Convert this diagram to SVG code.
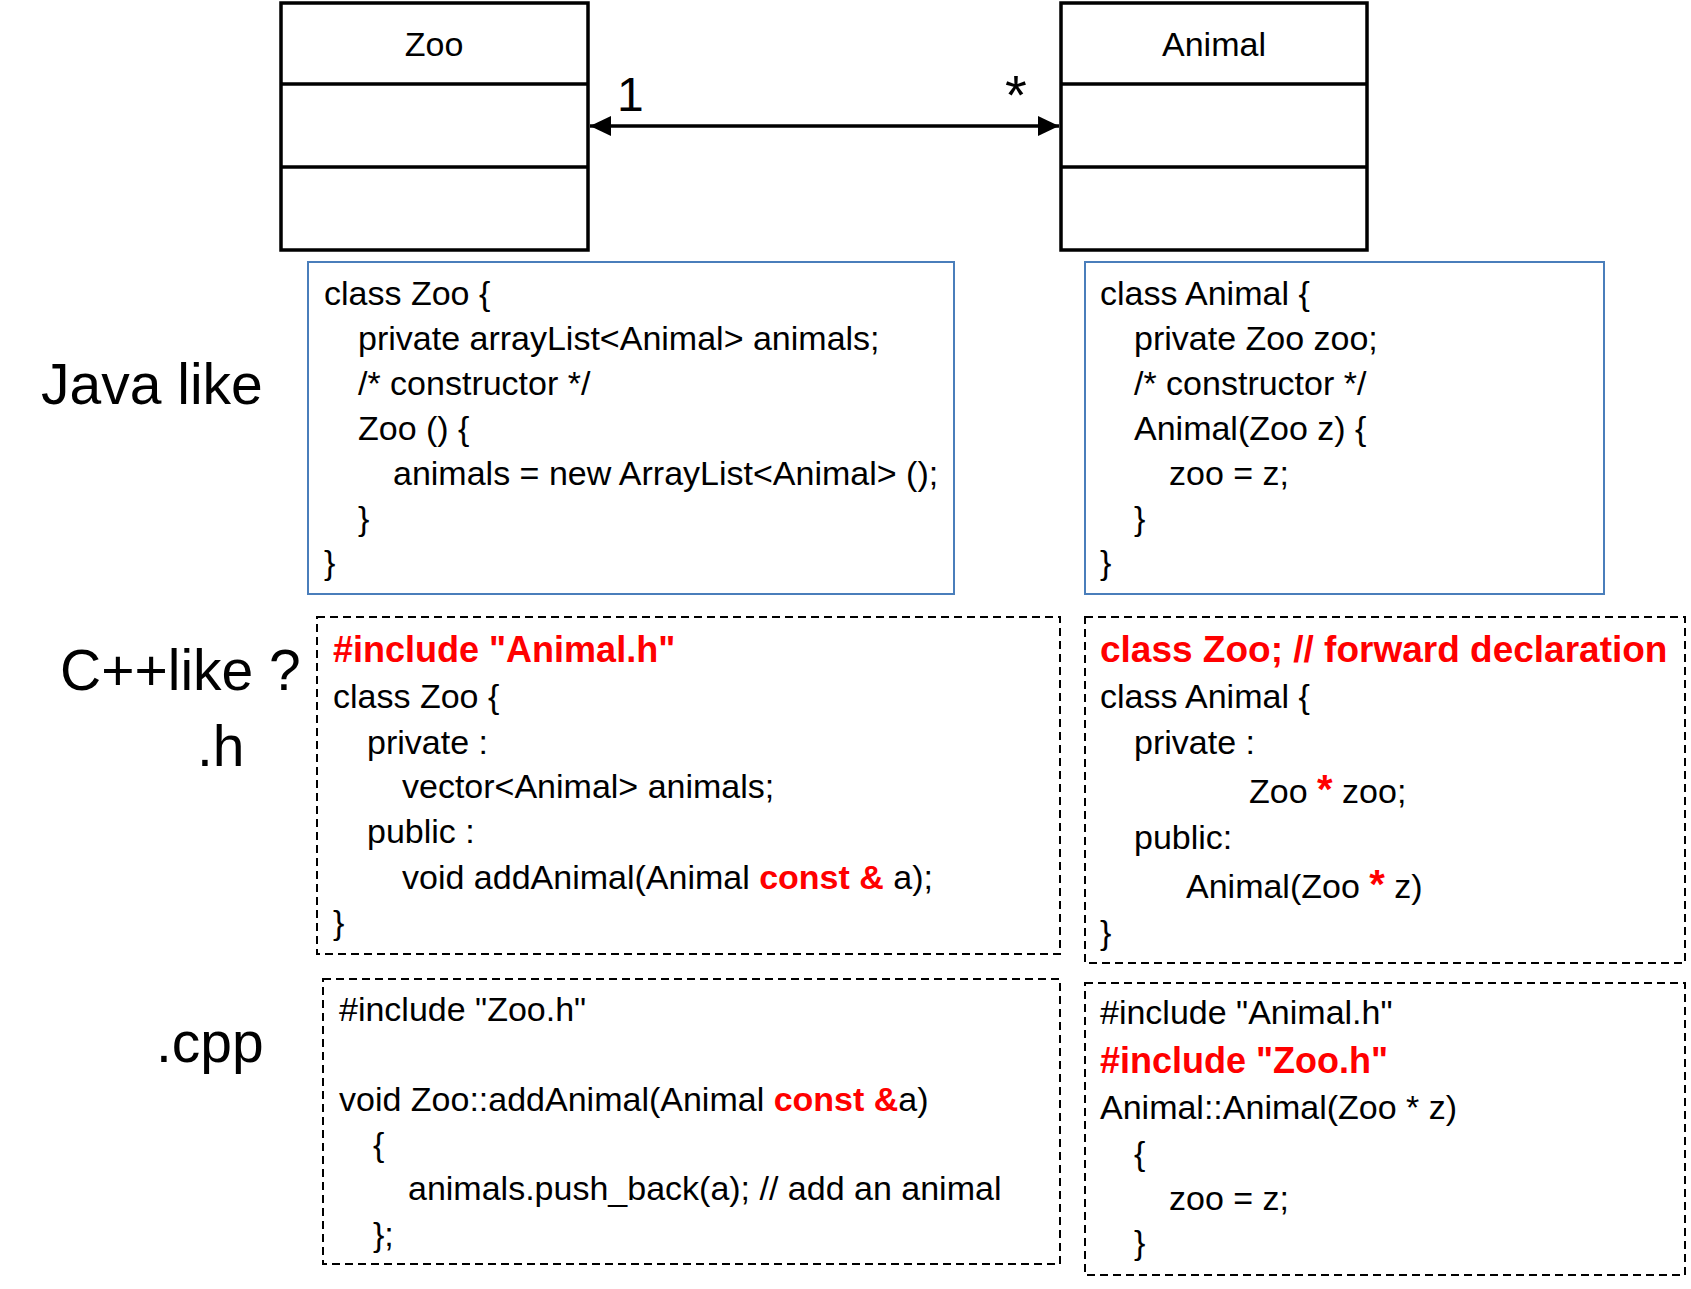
<svg xmlns="http://www.w3.org/2000/svg" width="1691" height="1289" viewBox="0 0 1691 1289">
<style>
text{font-family:"Liberation Sans",Arial,sans-serif;fill:#000}
.c{font-size:34px}
.lb{font-size:57px}
.r{fill:#FF0000;font-weight:bold}
.h{font-size:36px}
.fw{font-size:37px}
.ast{font-size:40px}
.uml{fill:#fff;stroke:#000;stroke-width:3.5}
.java{fill:#fff;stroke:#4A7EBB;stroke-width:2}
.dash{fill:#fff;stroke:#000;stroke-width:2;stroke-dasharray:8 5}
</style>
<defs>
<marker id="ah" markerUnits="userSpaceOnUse" markerWidth="22" markerHeight="20" refX="21" refY="10" orient="auto-start-reverse" viewBox="0 0 22 20">
<path d="M0,0 L21,10 L0,20 z" fill="#000"/>
</marker>
</defs>
<rect width="1691" height="1289" fill="#fff"/>

<g id="zoo-class">
<rect class="uml" x="281" y="3" width="307" height="247"/>
<line x1="281" y1="84" x2="588" y2="84" stroke="#000" stroke-width="3.5"/>
<line x1="281" y1="167" x2="588" y2="167" stroke="#000" stroke-width="3.5"/>
<text class="c" x="434" y="56" text-anchor="middle">Zoo</text>
</g>
<g id="animal-class">
<rect class="uml" x="1061" y="3" width="306" height="247"/>
<line x1="1061" y1="84" x2="1367" y2="84" stroke="#000" stroke-width="3.5"/>
<line x1="1061" y1="167" x2="1367" y2="167" stroke="#000" stroke-width="3.5"/>
<text class="c" x="1214" y="56" text-anchor="middle">Animal</text>
</g>

<g id="connectors">
<line x1="590" y1="126" x2="1059" y2="126" stroke="#000" stroke-width="3.5" marker-start="url(#ah)" marker-end="url(#ah)"/>
<text x="617" y="111" font-size="48">1</text>
<text x="1005" y="114" font-size="56">*</text>
</g>

<g id="labels">
<text class="lb" x="41" y="404">Java like</text>
<text class="lb" x="60" y="690">C++like ?</text>
<text class="lb" x="197" y="766">.h</text>
<text class="lb" x="156" y="1062">.cpp</text>
</g>

<g id="java-zoo">
<rect class="java" x="308" y="262" width="646" height="332"/>
<text class="c" x="324" y="305">class Zoo {</text>
<text class="c" x="358" y="350">private arrayList&lt;Animal&gt; animals;</text>
<text class="c" x="358" y="395">/* constructor */</text>
<text class="c" x="358" y="440">Zoo () {</text>
<text class="c" x="393" y="485">animals = new ArrayList&lt;Animal&gt; ();</text>
<text class="c" x="358" y="530">}</text>
<text class="c" x="324" y="574">}</text>
</g>

<g id="java-animal">
<rect class="java" x="1085" y="262" width="519" height="332"/>
<text class="c" x="1100" y="305">class Animal {</text>
<text class="c" x="1134" y="350">private Zoo zoo;</text>
<text class="c" x="1134" y="395">/* constructor */</text>
<text class="c" x="1134" y="440">Animal(Zoo z) {</text>
<text class="c" x="1169" y="485">zoo = z;</text>
<text class="c" x="1134" y="530">}</text>
<text class="c" x="1100" y="574">}</text>
</g>

<g id="cpp-zoo-h">
<rect class="dash" x="317" y="617" width="743" height="337"/>
<text class="c h r" x="333" y="662">#include "Animal.h"</text>
<text class="c" x="333" y="708">class Zoo {</text>
<text class="c" x="367" y="754">private :</text>
<text class="c" x="402" y="798">vector&lt;Animal&gt; animals;</text>
<text class="c" x="367" y="843">public :</text>
<text class="c" x="402" y="889">void addAnimal(Animal <tspan class="r">const &amp;</tspan> a);</text>
<text class="c" x="333" y="934">}</text>
</g>

<g id="cpp-animal-h">
<rect class="dash" x="1085" y="617" width="600" height="346"/>
<text class="c fw r" x="1100" y="662">class Zoo; // forward declaration</text>
<text class="c" x="1100" y="708">class Animal {</text>
<text class="c" x="1134" y="754">private :</text>
<text class="c" x="1249" y="803">Zoo <tspan class="r ast">*</tspan> zoo;</text>
<text class="c" x="1134" y="849">public:</text>
<text class="c" x="1186" y="898">Animal(Zoo <tspan class="r ast">*</tspan> z)</text>
<text class="c" x="1100" y="944">}</text>
</g>

<g id="cpp-zoo-cpp">
<rect class="dash" x="323" y="979" width="737" height="285"/>
<text class="c" x="339" y="1021">#include "Zoo.h"</text>
<text class="c" x="339" y="1111">void Zoo::addAnimal(Animal <tspan class="r">const &amp;</tspan>a)</text>
<text class="c" x="373" y="1156">{</text>
<text class="c" x="408" y="1200">animals.push_back(a); // add an animal</text>
<text class="c" x="373" y="1246">};</text>
</g>

<g id="cpp-animal-cpp">
<rect class="dash" x="1085" y="983" width="600" height="292"/>
<text class="c" x="1100" y="1024">#include "Animal.h"</text>
<text class="c h r" x="1100" y="1073">#include "Zoo.h"</text>
<text class="c" x="1100" y="1119">Animal::Animal(Zoo * z)</text>
<text class="c" x="1134" y="1165">{</text>
<text class="c" x="1169" y="1210">zoo = z;</text>
<text class="c" x="1134" y="1254">}</text>
</g>
</svg>
